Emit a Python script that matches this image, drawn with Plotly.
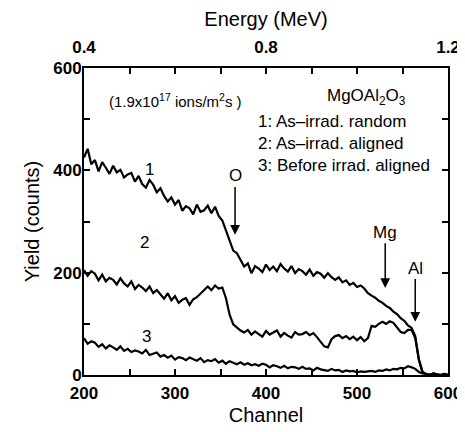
import plotly.graph_objects as go

# ---- data ----
channel = list(range(200, 601, 4))

random_yield = [
    425, 442, 412, 420, 398, 416, 405, 393, 409, 396,
    401, 386, 392, 395, 378, 389, 373, 366, 381, 372,
    357, 365, 350, 339, 347, 333, 342, 321, 330, 326,
    314, 333, 319, 322, 331, 316, 329, 311, 302, 283,
    266, 243, 238, 224, 212, 218, 199, 213, 208, 201,
    216, 205, 212, 203, 217, 208, 202, 213, 199, 207,
    203, 196, 206, 194, 201, 198, 190, 199, 191, 186,
    191, 181, 185, 176, 180, 172, 175, 169, 160, 155,
    151, 145, 141, 135, 131, 124, 119, 111, 106, 97,
    92, 76, 30, 6, 2, 0, 3, 1, 0, 2,
    0,
]

aligned_yield = [
    205, 194, 203, 198, 185, 196, 183, 190, 186, 177,
    189, 179, 173, 183, 168, 176, 171, 164, 173, 160,
    166, 158, 149, 160, 146, 154, 141, 147, 150, 137,
    148, 152, 159, 164, 173, 166, 175, 169, 171, 150,
    118, 99, 93, 87, 83, 88, 79, 85, 80, 75,
    86, 79, 83, 87, 75, 82, 77, 73, 84, 79,
    80, 84, 78, 82, 74, 66, 56, 54, 70, 76,
    78, 72, 76, 70, 75, 68, 74, 66, 72, 96,
    94, 100, 104, 100, 105, 102, 92, 84, 82, 88,
    88, 72, 30, 5, 2, 0, 3, 1, 0, 2,
    0,
]

before_yield = [
    72, 61, 66, 63, 55, 60, 52, 58, 54, 49,
    56, 47, 51, 45, 48, 46, 42, 49, 39, 42,
    44, 36, 39, 34, 38, 30, 35, 33, 29, 34,
    31, 28, 33, 25, 29, 27, 31, 24, 28, 22,
    27, 24, 21, 25, 20, 23, 19, 21, 18, 22,
    20, 15, 19, 17, 14, 18, 13, 16, 15, 12,
    16, 12, 13, 9, 14, 11, 10, 8, 12, 9,
    10, 6, 9, 7, 8, 5, 7, 6, 7, 8,
    6, 9, 8, 11, 9, 12, 11, 14, 13, 17,
    15, 12, 6, 3, 2, 1, 0, 1, 0, 1,
    0,
]

curve_labels = [("1", 272, 402), ("2", 267, 258), ("3", 269, 76)]
# (label, channel of arrow, yield at tip, yield of text)
element_arrows = [("O", 366, 274, 389), ("Mg", 531, 170, 279), ("Al", 564, 104, 209)]

legend_lines = ["1: As\u2013irrad. random", "2: As\u2013irrad. aligned", "3: Before irrad. aligned"]
legend_y = [496, 453, 410]

FONT = "Liberation Sans, Arial, sans-serif"

fig = go.Figure()
for ys in (random_yield, aligned_yield, before_yield):
    fig.add_trace(go.Scatter(x=channel, y=ys, mode="lines",
                             line=dict(color="black", width=2.2),
                             showlegend=False, hoverinfo="skip"))
# carrier for the top energy axis
fig.add_trace(go.Scatter(x=[0.4, 1.2], y=[None, None], xaxis="x2",
                         mode="lines", showlegend=False, hoverinfo="skip"))

ann = []
for lab, cx, cy in curve_labels:
    ann.append(dict(x=cx, y=cy, text=lab, showarrow=False,
                    font=dict(family=FONT, size=17, color="black")))
for lab, cx, tip, ty in element_arrows:
    ann.append(dict(x=cx, y=tip, ax=cx, ay=ty, axref="x", ayref="y", text=lab,
                    showarrow=True, arrowhead=2, arrowsize=1.3, arrowwidth=1.5,
                    arrowcolor="black", standoff=0, startstandoff=0,
                    font=dict(family=FONT, size=17, color="black")))
ann.append(dict(x=225, y=537, xanchor="left", showarrow=False,
                text="(1.9x10<sup>17</sup> ions/m<sup>2</sup>s )",
                font=dict(family=FONT, size=15, color="black")))
ann.append(dict(x=510, y=543, showarrow=False,
                text="MgOAl<sub>2</sub>O<sub>3</sub>",
                font=dict(family=FONT, size=17, color="black")))
for t, yy in zip(legend_lines, legend_y):
    ann.append(dict(x=389, y=yy, xanchor="left", showarrow=False, text=t,
                    font=dict(family=FONT, size=17, color="black")))

tickfont = dict(family=FONT, size=17, color="black", weight="bold")
titlefont = dict(family=FONT, size=20, color="black")
common = dict(ticks="inside", ticklen=6, tickwidth=1.5, tickcolor="black",
              showline=True, linewidth=2, linecolor="black",
              showgrid=False, zeroline=False, tickfont=tickfont, automargin=False)
minor = dict(ticks="inside", ticklen=6, tickwidth=1.5, tickcolor="black", showgrid=False)

# the page body adds an 8 px offset, so the figure is 8 px smaller
fig.update_layout(
    width=457, height=424,
    margin=dict(l=76, r=17, t=60, b=57),
    paper_bgcolor="white", plot_bgcolor="white",
    annotations=ann,
    xaxis=dict(range=[200, 600], tick0=200, dtick=100, mirror=False,
               minor=dict(dtick=50, **minor), ticklabelstandoff=2,
               title=dict(text="Channel", font=titlefont, standoff=6), **common),
    xaxis2=dict(range=[0.4, 1.2], overlaying="x", side="top", anchor="y",
                tick0=0.4, dtick=0.4, minor=dict(dtick=0.1, **minor),
                ticklabelstandoff=6,
                title=dict(text="Energy (MeV)", font=titlefont, standoff=8), **common),
    yaxis=dict(range=[0, 600], tick0=0, dtick=200, mirror="ticks",
               minor=dict(dtick=100, **minor), ticklabelstandoff=-3,
               title=dict(text="Yield (counts)", font=titlefont, standoff=8), **common),
)

fig.write_html("out.html")
